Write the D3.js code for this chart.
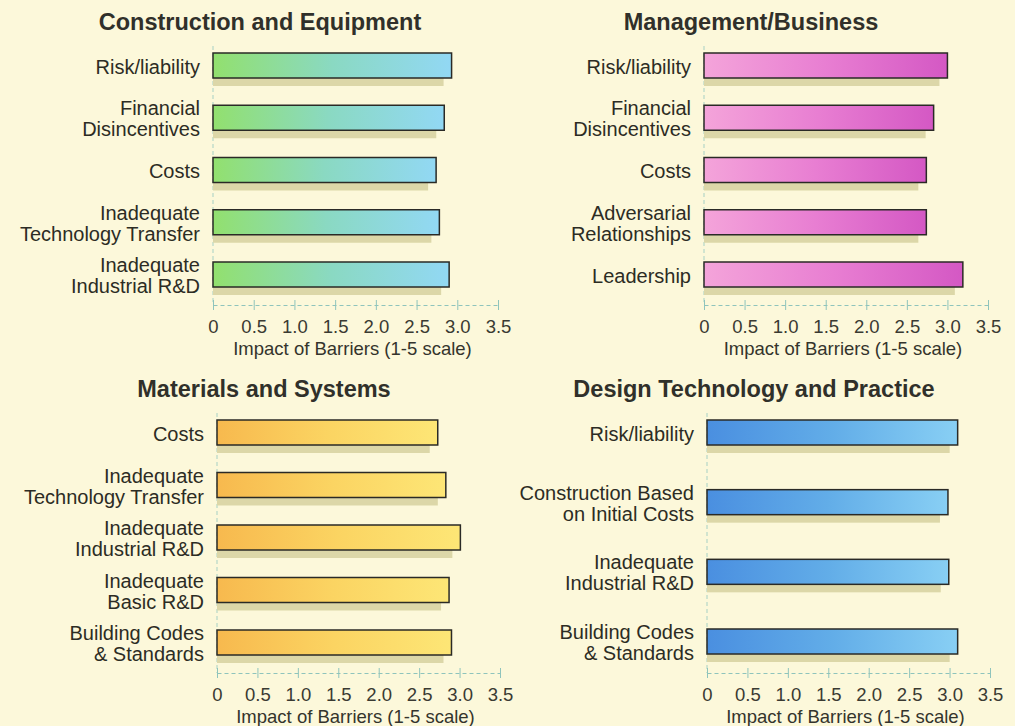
<!DOCTYPE html>
<html>
<head>
<meta charset="utf-8">
<script src="https://cdn.jsdelivr.net/npm/d3@7.9.0/dist/d3.min.js"></script>
<style>
  body { margin: 0; background: #fcf8da; }
  svg { display: block; font-family: "Liberation Sans", Arial, Helvetica, sans-serif; }
</style>
</head>
<body>
<svg id="chart" width="1015" height="726"></svg>
<script>
// data
const titles = ['Construction and Equipment', 'Management/Business', 'Materials and Systems', 'Design Technology and Practice'];

const constructionLabels = ['Risk/liability', 'Financial\nDisincentives', 'Costs', 'Inadequate\nTechnology Transfer', 'Inadequate\nIndustrial R&D'];
const constructionValues = [2.93, 2.84, 2.74, 2.78, 2.90];

const managementLabels = ['Risk/liability', 'Financial\nDisincentives', 'Costs', 'Adversarial\nRelationships', 'Leadership'];
const managementValues = [3.00, 2.83, 2.74, 2.74, 3.19];

const materialsLabels = ['Costs', 'Inadequate\nTechnology Transfer', 'Inadequate\nIndustrial R&D', 'Inadequate\nBasic R&D', 'Building Codes\n& Standards'];
const materialsValues = [2.73, 2.83, 3.01, 2.87, 2.90];

const designLabels = ['Risk/liability', 'Construction Based\non Initial Costs', 'Inadequate\nIndustrial R&D', 'Building Codes\n& Standards'];
const designValues = [3.10, 2.98, 2.99, 3.10];

const tickValues = [0, 0.5, 1.0, 1.5, 2.0, 2.5, 3.0, 3.5];
const axisTitle = 'Impact of Barriers (1-5 scale)';

// layout for each panel
const panels = [
  { title: titles[0], labels: constructionLabels, values: constructionValues,
    x0: 213, x1: 498, top: 53, bottom: 287, axisY: 305, titleY: 30,
    colors: ['#92e06e', '#8ad9c2', '#92d8f4'] },
  { title: titles[1], labels: managementLabels, values: managementValues,
    x0: 704, x1: 988, top: 53, bottom: 287, axisY: 305, titleY: 30,
    colors: ['#f4a4da', '#e87ed2', '#d458c4'] },
  { title: titles[2], labels: materialsLabels, values: materialsValues,
    x0: 217, x1: 500, top: 420, bottom: 655, axisY: 673, titleY: 397,
    colors: ['#f7b94e', '#fbd462', '#fde676'] },
  { title: titles[3], labels: designLabels, values: designValues,
    x0: 707, x1: 990, top: 420, bottom: 654, axisY: 673, titleY: 397,
    colors: ['#4a8fe0', '#62ade8', '#88cff4'] }
];

const svg = d3.select('#chart');
const defs = svg.append('defs');
const barH = 25;

panels.forEach((p, i) => {
  let grad = defs.append('linearGradient').attr('id', 'grad' + i)
    .attr('x1', '0%').attr('x2', '100%').attr('y1', '0%').attr('y2', '0%');
  p.colors.forEach((c, k) => {
    grad.append('stop').attr('offset', (k / (p.colors.length - 1) * 100) + '%').attr('stop-color', c);
  });

  let x = d3.scaleLinear().domain([0, 3.5]).range([p.x0, p.x1]);
  let y = d3.scalePoint().domain(p.labels).range([p.top + barH / 2, p.bottom - barH / 2]);
  let g = svg.append('g');

  // title
  g.append('text')
    .attr('x', p.x0 + 47).attr('y', p.titleY)
    .attr('text-anchor', 'middle')
    .attr('font-size', 23.5).attr('font-weight', 'bold')
    .attr('fill', '#30302a')
    .text(p.title);

  // vertical dashed line at zero
  g.append('line')
    .attr('x1', x(0)).attr('x2', x(0))
    .attr('y1', p.top - 7).attr('y2', p.axisY)
    .attr('stroke', '#a6d0c4').attr('stroke-width', 1)
    .attr('stroke-dasharray', '4,3');

  // shadows
  g.selectAll('.shadow').data(p.values).join('rect')
    .attr('class', 'shadow')
    .attr('x', x(0))
    .attr('y', (d, k) => y(p.labels[k]) - barH / 2 + 8)
    .attr('width', d => x(d) - x(0) - 8)
    .attr('height', barH)
    .attr('fill', '#dcd7a8');

  // bars
  g.selectAll('.bar').data(p.values).join('rect')
    .attr('class', 'bar')
    .attr('x', x(0))
    .attr('y', (d, k) => y(p.labels[k]) - barH / 2)
    .attr('width', d => x(d) - x(0))
    .attr('height', barH)
    .attr('fill', `url(#grad${i})`)
    .attr('stroke', '#2a2a26').attr('stroke-width', 1.5);

  // category labels
  p.labels.forEach(lab => {
    let lines = lab.split('\n');
    let t = g.append('text')
      .attr('text-anchor', 'end')
      .attr('font-size', 20)
      .attr('fill', '#2c2c24');
    lines.forEach((ln, k) => {
      t.append('tspan')
        .attr('x', x(0) - 13)
        .attr('y', y(lab) - (lines.length - 1) * 10.5 + 8 + k * 21)
        .text(ln);
    });
  });

  // x axis
  let axis = d3.axisBottom(x)
    .tickValues(tickValues)
    .tickFormat(d => d === 0 ? '0' : d3.format('.1f')(d))
    .tickSizeOuter(0);
  let ag = g.append('g').attr('transform', `translate(0,${p.axisY})`).call(axis);
  ag.select('.domain')
    .attr('stroke', '#8fc4bc').attr('stroke-dasharray', '4,3');
  ag.selectAll('.tick line')
    .attr('y1', -5).attr('y2', 5)
    .attr('stroke', '#8fc4bc');
  ag.selectAll('.tick text')
    .attr('y', 28).attr('dy', 0)
    .attr('font-size', 18.5)
    .attr('font-family', '"Liberation Sans", Arial, sans-serif')
    .attr('fill', '#3a3a32');

  g.append('text')
    .attr('x', (x(0) + x(3.5)) / 2 - 3).attr('y', p.axisY + 50)
    .attr('text-anchor', 'middle')
    .attr('font-size', 18.5)
    .attr('fill', '#34342c')
    .text(axisTitle);
});
</script>
</body>
</html>
